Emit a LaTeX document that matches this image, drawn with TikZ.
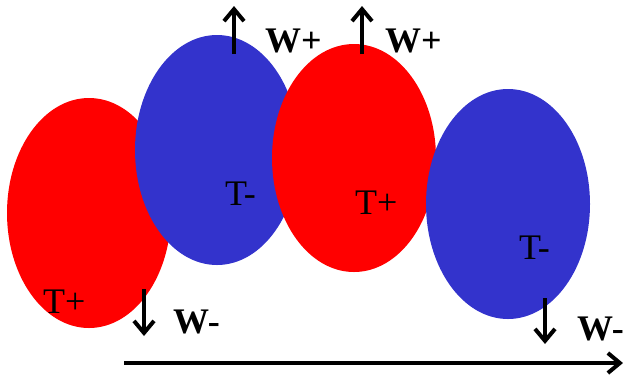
\documentclass[tikz,border=0pt]{standalone}
\usepackage{fontspec}
\setmainfont{Liberation Serif}
\usetikzlibrary{shapes.geometric,arrows.meta}
\definecolor{myred}{RGB}{255,0,0}
\definecolor{myblue}{RGB}{51,51,204}
\begin{document}
\begin{tikzpicture}[x=1pt,y=-1pt,
  blob/.style={ellipse,inner sep=0pt,minimum width=164pt,minimum height=230pt,draw=none},
  lbl/.style={inner sep=0pt,anchor=base west,font=\fontsize{36}{40}\selectfont},
  wlbl/.style={lbl,font=\fontsize{36}{40}\selectfont\bfseries},
  arr/.style={line width=4pt,-{Straight Barb[length=12pt,width=20pt,line width=4pt]}}]
\useasboundingbox (0,0) rectangle (623,376);
\node[blob,fill=myred] (e1) at (89,213) {};
\node[blob,fill=myblue] (e2) at (217,150) {};
\node[blob,fill=myred,minimum height=228pt] (e3) at (354,158) {};
\node[blob,fill=myblue] (e4) at (508,204) {};
\node[lbl] (t1) at (43,313) {T+};
\node[lbl] (t2) at (225,205) {T-};
\node[lbl] (t3) at (355,214) {T+};
\node[lbl] (t4) at (519,259) {T-};
\node[wlbl] (w1) at (265,52) {W+};
\node[wlbl] (w2) at (385,52) {W+};
\node[wlbl] (w3) at (173,333) {W-};
\node[wlbl] (w4) at (577,340) {W-};
\coordinate (a1s) at (234,54); \coordinate (a1e) at (234,6);
\coordinate (a2s) at (362,54); \coordinate (a2e) at (362,6);
\coordinate (a3s) at (144,289); \coordinate (a3e) at (144,336);
\coordinate (a4s) at (545,298); \coordinate (a4e) at (545,344);
\coordinate (xs) at (124,363); \coordinate (xe) at (623,363);
\draw[arr] (a1s) -- (a1e);
\draw[arr] (a2s) -- (a2e);
\draw[arr] (a3s) -- (a3e);
\draw[arr] (a4s) -- (a4e);
\draw[arr] (xs) -- (xe);
\end{tikzpicture}
\end{document}
